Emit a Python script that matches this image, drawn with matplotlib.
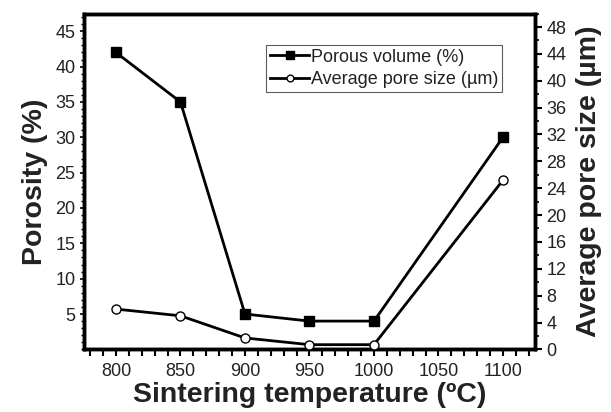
import matplotlib
matplotlib.use("Agg")
import matplotlib.pyplot as plt
from matplotlib.ticker import MultipleLocator

plt.rcParams['font.family'] = ['Liberation Sans', 'DejaVu Sans']

# data
temps = [800, 850, 900, 950, 1000, 1100]
porous_volume = [42, 35, 5, 4, 4, 30]          # % (left axis)
pore_size = [6.0, 5.0, 1.7, 0.7, 0.7, 25.2]    # um (right axis)

left_ticks = [5, 10, 15, 20, 25, 30, 35, 40, 45]
right_ticks = [0, 4, 8, 12, 16, 20, 24, 28, 32, 36, 40, 44, 48]
x_ticks = [800, 850, 900, 950, 1000, 1050, 1100]

fig = plt.figure(figsize=(6.11, 4.12), dpi=100)
ax = fig.add_axes([0.137, 0.152, 0.739, 0.815])
ax2 = ax.twinx()

l1, = ax.plot(temps, porous_volume, color='black', lw=2.0, marker='s',
              ms=6.8, mfc='black', mec='black', label='Porous volume (%)', zorder=3)
l2, = ax2.plot(temps, pore_size, color='black', lw=2.0, marker='o',
               ms=6.5, mfc='white', mec='black', mew=1.0,
               label='Average pore size (\u00b5m)', zorder=3, clip_on=False)

ax.set_xlim(775, 1125)
ax.set_ylim(0, 47.5)
ax2.set_ylim(0, 50)

ax.set_xticks(x_ticks)
ax.xaxis.set_minor_locator(MultipleLocator(10))
ax.set_yticks(left_ticks)
ax.yaxis.set_minor_locator(MultipleLocator(1))
ax2.set_yticks(right_ticks)
ax2.yaxis.set_minor_locator(MultipleLocator(2))

# cosmetic configuration
for a in (ax, ax2):
    for s in a.spines.values():
        s.set_linewidth(2.5)
ax.tick_params(axis='x', which='both', direction='out', length=5, width=1.5,
               labelsize=13, colors='black', labelcolor='#222222', pad=5)
ax.tick_params(axis='y', which='major', direction='out', length=3, width=1.2,
               labelsize=13, labelcolor='#222222', pad=3)
ax.tick_params(axis='y', which='minor', direction='out', length=2, width=1.0)
ax2.tick_params(axis='y', which='major', direction='out', length=5, width=1.5,
                labelsize=13, labelcolor='#222222', pad=3)
ax2.tick_params(axis='y', which='minor', direction='out', length=3, width=1.2)

ax.set_xlabel('Sintering temperature (\u00baC)', fontsize=20.5, fontweight='bold',
              color='#222222', labelpad=1)
ax.set_ylabel('Porosity (%)', fontsize=20.5, fontweight='bold', color='#222222',
              labelpad=5)
ax2.set_ylabel('Average pore size (\u00b5m)', fontsize=20.5, fontweight='bold',
               color='#222222', labelpad=7)

leg = ax.legend(handles=[l1, l2], loc='upper left',
                bbox_to_anchor=(0.404, 0.906), fontsize=13, frameon=True,
                fancybox=False, edgecolor='#333333', handlelength=2.2,
                handletextpad=0.1, borderpad=0.2, labelspacing=0.3,
                borderaxespad=0, markerscale=0.75)
leg.get_frame().set_linewidth(0.8)
for t in leg.get_texts():
    t.set_color('#222222')

plt.savefig('out.png', dpi=100)
plt.close()
